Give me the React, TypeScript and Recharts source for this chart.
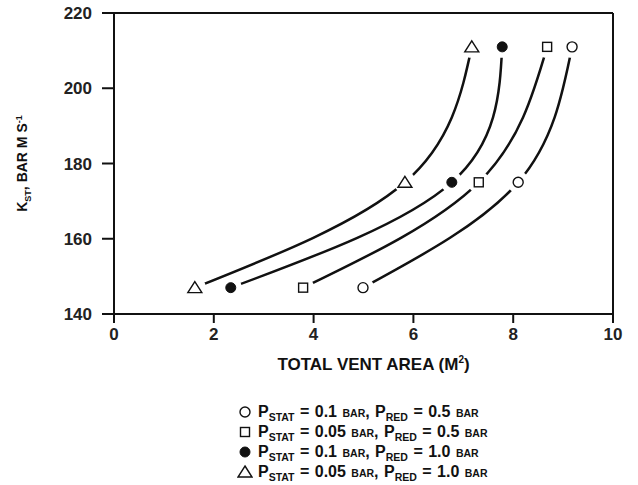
import React from 'react';
import { ComposedChart, Line, XAxis, YAxis, ReferenceLine, Legend } from 'recharts';

// K_ST rows (bar m/s) shared by every series
const kstLevels = [147, 175, 211];
// total vent area (m2) read for each series at those rows
const ventCircle = [4.99, 8.1, 9.18];
const ventSquare = [3.79, 7.31, 8.68];
const ventDisc = [2.34, 6.77, 7.78];
const ventTriangle = [1.62, 5.83, 7.17];

const xTicks = [0, 2, 4, 6, 8, 10];
const yTicks = [140, 160, 180, 200, 220];

const legendRows = [
  { shape: 'circle', stat: '0.1', red: '0.5' },
  { shape: 'square', stat: '0.05', red: '0.5' },
  { shape: 'disc', stat: '0.1', red: '1.0' },
  { shape: 'triangle', stat: '0.05', red: '1.0' },
];

const toRows = (xs: number[]) => xs.map((x, i) => ({ x, y: kstLevels[i] }));

const FONT = '"Liberation Sans", Arial, Helvetica, sans-serif';

function Marker({ shape, cx, cy }: { shape: string; cx: number; cy: number }) {
  if (shape === 'circle') return <circle cx={cx} cy={cy} r={5} fill="#fff" stroke="#111" strokeWidth={1.4} />;
  if (shape === 'disc') return <circle cx={cx} cy={cy} r={5} fill="#111" stroke="#111" />;
  if (shape === 'square') return <rect x={cx - 4.5} y={cy - 4.5} width={9} height={9} fill="#fff" stroke="#111" strokeWidth={1.4} />;
  return <path d={`M${cx},${cy - 6} L${cx + 7},${cy + 5} L${cx - 7},${cy + 5} Z`} fill="#fff" stroke="#111" strokeWidth={1.4} />;
}

const makeDot = (shape: string) => (props: any) => {
  const { cx, cy, index } = props;
  return (
    <g key={`${shape}-${index}`}>
      <circle cx={cx} cy={cy} r={11} fill="#fff" />
      <Marker shape={shape} cx={cx} cy={cy} />
    </g>
  );
};

const small = { fontSize: 10.5, position: 'relative' as const, lineHeight: 0 };

function LegendBox() {
  return (
    <div style={{ fontFamily: FONT, color: '#111', fontSize: 16, fontWeight: 600, lineHeight: '20px', wordSpacing: 1 }}>
      {legendRows.map((r) => (
        <div key={r.shape} style={{ display: 'flex', alignItems: 'center', whiteSpace: 'nowrap', height: 20 }}>
          <svg width={16} height={16} style={{ marginRight: 5 }}>
            <Marker shape={r.shape} cx={8} cy={8} />
          </svg>
          <span>
            P<span style={{ ...small, top: 4 }}>STAT</span> = {r.stat} <span style={small}>BAR</span>, P
            <span style={{ ...small, top: 4 }}>RED</span> = {r.red} <span style={small}>BAR</span>
          </span>
        </div>
      ))}
    </div>
  );
}

const XLabel = (props: any) => {
  const { viewBox } = props;
  return (
    <text x={viewBox.x + viewBox.width / 2 + 10} y={viewBox.y + 56} textAnchor="middle" fontSize={17} fontWeight="bold" fill="#111" fontFamily={FONT}>
      TOTAL VENT AREA (M<tspan dy={-7} fontSize={10}>2</tspan>
      <tspan dy={7}>)</tspan>
    </text>
  );
};

const YLabel = (props: any) => {
  const { viewBox } = props;
  const x = viewBox.x - 17;
  const y = viewBox.y + viewBox.height / 2;
  return (
    <text x={x} y={y} transform={`rotate(-90 ${x} ${y})`} textAnchor="middle" fontSize={14} fontWeight="bold" fill="#111" fontFamily={FONT}>
      K<tspan dy={4} fontSize={9}>ST</tspan>
      <tspan dy={-4}>, BAR M S</tspan>
      <tspan dy={-5} fontSize={9}>-1</tspan>
    </text>
  );
};

const series = [
  { shape: 'circle', data: toRows(ventCircle) },
  { shape: 'square', data: toRows(ventSquare) },
  { shape: 'disc', data: toRows(ventDisc) },
  { shape: 'triangle', data: toRows(ventTriangle) },
];

export default function App() {
  const tickStyle = { fontSize: 17, fontWeight: 'bold', fill: '#222', fontFamily: FONT };
  return (
    <div style={{ position: 'absolute', left: 0, top: 0, background: '#fff' }}>
      <ComposedChart width={638} height={485} margin={{ top: 13, right: 25, left: 44, bottom: 111 }}>
        <XAxis
          type="number"
          dataKey="x"
          domain={[0, 10]}
          ticks={xTicks}
          allowDataOverflow
          height={60}
          tickSize={9}
          tickMargin={5}
          stroke="#111"
          strokeWidth={2}
          tick={tickStyle}
          label={<XLabel />}
        />
        <YAxis
          type="number"
          dataKey="y"
          domain={[140, 220]}
          ticks={yTicks}
          width={70}
          tickSize={12}
          tickMargin={10}
          stroke="#111"
          strokeWidth={2}
          tick={tickStyle}
          label={<YLabel />}
        />
        <ReferenceLine y={220} stroke="#111" strokeWidth={2} />
        <ReferenceLine x={10} stroke="#111" strokeWidth={2} />
        {series.map((s) => (
          <Line
            key={s.shape}
            data={s.data}
            dataKey="y"
            type="natural"
            stroke="#111"
            strokeWidth={2.5}
            dot={makeDot(s.shape)}
            activeDot={false}
            isAnimationActive={false}
          />
        ))}
        <Legend
          layout="vertical"
          align="center"
          verticalAlign="middle"
          content={<LegendBox />}
          wrapperStyle={{ left: 237, top: 402, width: 320 }}
        />
      </ComposedChart>
    </div>
  );
}
